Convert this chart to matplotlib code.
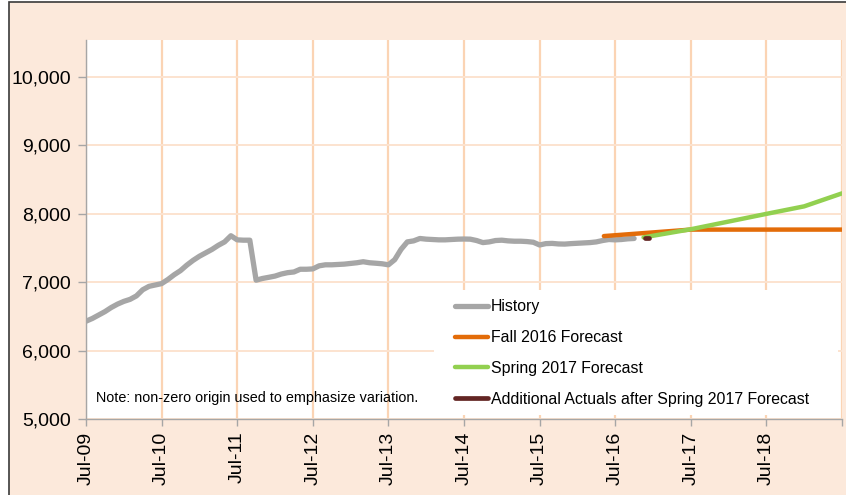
import matplotlib
matplotlib.use("Agg")
import matplotlib.pyplot as plt
from matplotlib.patches import Rectangle

plt.rcParams['font.family'] = ['Liberation Sans', 'DejaVu Sans']

# Months since Jul-2009
tick_labels = ["Jul-09", "Jul-10", "Jul-11", "Jul-12", "Jul-13",
               "Jul-14", "Jul-15", "Jul-16", "Jul-17", "Jul-18", ""]
tick_months = [0, 12, 24, 36, 48, 60, 72, 84, 96, 108, 120]

history_months = list(range(0, 88))
history_values = [
    6430, 6470, 6520, 6570, 6630, 6680, 6720, 6750, 6800, 6890, 6940, 6960,
    6980, 7040, 7110, 7170, 7250, 7320, 7380, 7430, 7480, 7540, 7590, 7680,
    7620, 7615, 7615, 7030, 7055, 7072, 7090, 7120, 7140, 7150, 7190, 7190,
    7195, 7240, 7255, 7255, 7260, 7265, 7275, 7285, 7300, 7285, 7278, 7270,
    7255, 7330, 7480, 7590, 7605, 7640, 7630, 7625, 7620, 7620, 7625, 7630,
    7632, 7630, 7610, 7580, 7590, 7610, 7615, 7605, 7600, 7600, 7595, 7585,
    7545, 7565, 7568, 7560, 7558, 7565, 7570, 7575, 7580, 7590, 7610, 7625,
    7620, 7625, 7635, 7640,
]

fall2016_months = [82.2, 96, 108, 120]
fall2016_values = [7675, 7770, 7770, 7770]

spring2017_months = [88.5, 96, 108, 114, 120]
spring2017_values = [7656, 7775, 8000, 8110, 8300]

actuals_months = [88.7, 89.4]
actuals_values = [7645, 7645]

y_ticks = [5000, 6000, 7000, 8000, 9000, 10000]

W, H = 846, 495
fig = plt.figure(figsize=(W / 100, H / 100), dpi=100, facecolor='white')

# Outer chart area
bg = Rectangle((8.5 / W, -0.1), 1.2, (H - 1.5) / H + 0.1, transform=fig.transFigure,
               facecolor='#FCE9DB', edgecolor='#3A3A3A', linewidth=1.2, zorder=-10)
fig.patches.append(bg)

ax = fig.add_axes([86 / W, 1 - 419 / H, (842 - 86) / W, (419 - 39.5) / H])
ax.set_facecolor('white')

ax.set_xlim(0, 120)
ax.set_ylim(5000, 10550)
ax.set_yticks(y_ticks)
ax.set_yticklabels([f"{v:,}" for v in y_ticks])
ax.set_xticks(tick_months)
ax.set_xticklabels(tick_labels, rotation=90)

ax.set_axisbelow(True)
ax.xaxis.grid(True, color='#FBD4B4', linewidth=1.6, zorder=0)
ax.yaxis.grid(True, color='#FCE3CF', linewidth=1.4, zorder=0)

for s in ['top', 'right']:
    ax.spines[s].set_visible(False)
for s in ['left', 'bottom']:
    ax.spines[s].set_color('#A6A6A6')
    ax.spines[s].set_linewidth(1.0)

ax.tick_params(axis='y', length=6, width=1, color='#A6A6A6', labelsize=14, pad=5,
               labelcolor='#000000')
ax.tick_params(axis='x', length=5, width=1, color='#A6A6A6', labelsize=14, pad=4,
               labelcolor='#000000')

# White legend background covering gridlines
ax.add_patch(Rectangle((348 / 756, 4 / 379.5), (838 - 434) / 756, (415 - 290) / 379.5,
                       transform=ax.transAxes, facecolor='white', edgecolor='none',
                       zorder=1))

l1, = ax.plot(history_months, history_values, color='#A6A6A6', lw=3.8,
              solid_capstyle='round', zorder=3, label='History')
l2, = ax.plot(fall2016_months, fall2016_values, color='#E36C09', lw=3.2,
              solid_capstyle='round', zorder=3, label='Fall 2016 Forecast')
l3, = ax.plot(spring2017_months, spring2017_values, color='#92D050', lw=3.2,
              solid_capstyle='round', zorder=4, label='Spring 2017 Forecast')
l4, = ax.plot(actuals_months, actuals_values, color='#632523', lw=3.4,
              solid_capstyle='round', zorder=4,
              label='Additional Actuals after Spring 2017 Forecast')

leg = ax.legend(handles=[l1, l2, l3, l4], loc='upper left',
                bbox_to_anchor=(455 / W, 1 - 299.5 / H), bbox_transform=fig.transFigure,
                frameon=False, fontsize=11.4, borderpad=0, borderaxespad=0,
                handlelength=2.1, handletextpad=0.15, labelspacing=0.99)
leg.set_zorder(5)

fig.text(96 / W, 1 - 398 / H, "Note: non-zero origin used to emphasize variation.",
         fontsize=10.4, va='center', ha='left')

fig.savefig('out.png', dpi=100, facecolor=fig.get_facecolor())
